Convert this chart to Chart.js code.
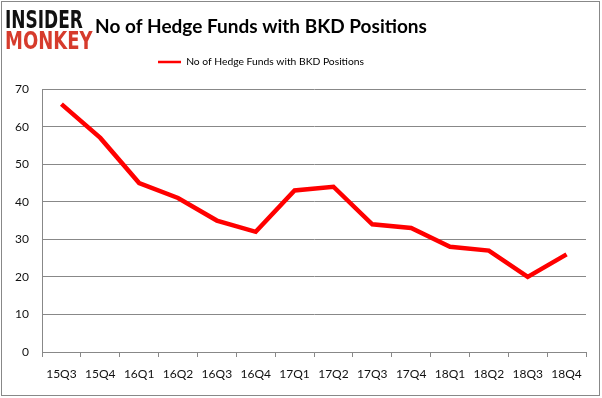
<!DOCTYPE html>
<html><head><meta charset="utf-8">
<script src="https://cdn.jsdelivr.net/npm/chart.js@4.4.1/dist/chart.umd.min.js"></script>
<style>
html,body{margin:0;padding:0;background:#fff;}
#wrap{position:relative;width:602px;height:398px;overflow:hidden;}
#frame{position:absolute;left:1px;top:1px;width:597px;height:393px;border:1px solid #888;pointer-events:none;}
#logo{position:absolute;left:5px;top:9px;font-family:"DejaVu Sans";font-weight:bold;line-height:21px;font-size:25px;}
#logo span{display:block;white-space:nowrap;transform-origin:left top;}
#logo .a{color:#111;transform:scaleX(0.68);}
#logo .b{color:#d63b2c;transform:scaleX(0.72);}
canvas{position:absolute;left:0;top:0;}
</style></head>
<body>
<div id="wrap">
<canvas id="c" width="602" height="398"></canvas>
<div id="logo"><span class="a">INSIDER</span><span class="b">MONKEY</span></div>
<div id="frame"></div>
</div>
<script>
const categories = ["15Q3","15Q4","16Q1","16Q2","16Q3","16Q4","17Q1","17Q2","17Q3","17Q4","18Q1","18Q2","18Q3","18Q4"];
const hedgeFunds = [66,57,45,41,35,32,43,44,34,33,28,27,20,26];
const seriesName = "No of Hedge Funds with BKD Positions";
const titleText = "No of Hedge Funds with BKD Positions";
const yTicks = [0,10,20,30,40,50,60,70];

const FONT = "Lato";
const shiftPlugin = {
  id: 'shift',
  beforeLayout(chart){
    const lg = chart.legend;
    if (lg && !lg._patched) {
      const orig = lg.fit;
      lg.fit = function(){ orig.call(this); this.height += 12; };
      lg._patched = true;
    }
  },
  afterLayout(chart){
    const dx = -32;
    [chart.titleBlock, chart.legend].forEach(b => { if (b) { b.left += dx; b.right += dx; } });
  }
};

new Chart(document.getElementById('c'), {
  type: 'line',
  data: {
    labels: categories,
    datasets: [{
      label: seriesName,
      data: hedgeFunds,
      borderColor: '#ff0000',
      backgroundColor: '#ff0000',
      borderWidth: 4.5,
      pointRadius: 0,
      tension: 0,
      fill: false
    }]
  },
  options: {
    responsive: false,
    animation: false,
    devicePixelRatio: 1,
    layout: { padding: { left: 0, right: 16, top: 15, bottom: 0 } },
    plugins: {
      title: {
        display: true, text: titleText, color: '#000',
        font: { family: FONT, size: 19, weight: 'bold' },
        padding: { top: 0, bottom: 6 }
      },
      legend: {
        display: true,
        labels: {
          color: '#000',
          font: { family: FONT, size: 10.3 },
          usePointStyle: true,
          pointStyle: 'line',
          pointStyleWidth: 23,
          boxHeight: 2,
          padding: 13,
          generateLabels(chart){
            const items = Chart.defaults.plugins.legend.labels.generateLabels(chart);
            items.forEach(i => { i.lineWidth = 2.5; i.pointStyle = 'line'; });
            return items;
          }
        }
      },
      tooltip: { enabled: false }
    },
    scales: {
      x: {
        offset: true,
        grid: { display: true, offset: true, drawOnChartArea: false, drawTicks: true, tickLength: 5, color: '#888' },
        border: { display: true, color: '#888' },
        ticks: { color: '#111', font: { family: FONT, size: 12 }, padding: 10, maxRotation: 0, autoSkip: false },
        afterFit(s){ s.height = 398 - 352; }
      },
      y: {
        min: 0, max: 70,
        afterBuildTicks(s){ s.ticks = yTicks.map(v => ({ value: v })); },
        grid: { color: '#888', drawTicks: false },
        border: { display: true, color: '#888' },
        ticks: { color: '#111', font: { family: FONT, size: 12 }, padding: 13 },
        afterFit(s){ s.width = 42; }
      }
    }
  },
  plugins: [shiftPlugin]
});
</script>
</body></html>
